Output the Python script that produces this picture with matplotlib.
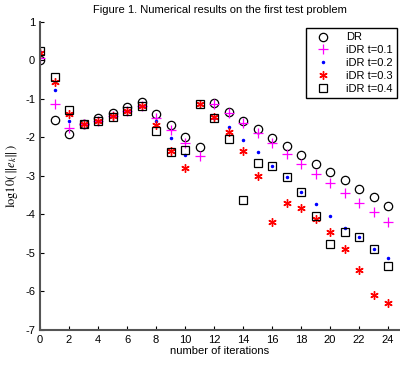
import numpy as np
import matplotlib
matplotlib.use("Agg")
import matplotlib.pyplot as plt

# data
iters = np.arange(25)
dr = [0.0, -1.55, -1.91, -1.65, -1.50, -1.36, -1.21, -1.09, -1.40, -1.69, -1.99, -2.26, -1.11,
      -1.34, -1.57, -1.79, -2.01, -2.23, -2.46, -2.69, -2.91, -3.12, -3.35, -3.56, -3.78]
idr_01 = [0.06, -1.13, -1.76, -1.65, -1.59, -1.45, -1.31, -1.18, -1.50, -1.81, -2.15, -2.50, -1.13,
          -1.38, -1.63, -1.88, -2.14, -2.44, -2.69, -2.95, -3.20, -3.45, -3.70, -3.95, -4.19]
idr_02 = [0.20, -0.77, -1.57, -1.65, -1.59, -1.45, -1.31, -1.18, -1.57, -2.02, -2.47, -1.13, -1.50,
          -1.73, -2.06, -2.39, -2.74, -3.02, -3.42, -3.73, -4.04, -4.35, -4.59, -4.90, -5.13]
idr_03 = [0.19, -0.57, -1.40, -1.65, -1.59, -1.45, -1.31, -1.18, -1.68, -2.37, -2.79, -1.13, -1.48,
          -1.87, -2.35, -3.01, -4.21, -3.71, -3.84, -4.12, -4.47, -4.90, -5.44, -6.10, -6.29]
idr_04 = [0.23, -0.44, -1.29, -1.65, -1.59, -1.48, -1.31, -1.20, -1.83, -2.38, -2.32, -1.13, -1.51,
          -2.05, -3.63, -2.66, -2.74, -3.02, -3.42, -4.04, -4.77, -4.45, -4.59, -4.90, -5.33]
labels = ["DR", "iDR t=0.1", "iDR t=0.2", "iDR t=0.3", "iDR t=0.4"]

plt.rcParams["font.family"] = ["Liberation Sans", "DejaVu Sans"]
plt.rcParams["axes.unicode_minus"] = False
plt.rcParams["mathtext.fontset"] = "stix"

fig = plt.figure(figsize=(4.0, 3.67), dpi=100)
ax = fig.add_axes([0.1, 0.1008, 0.8975, 0.8406])

star = (6, 2, 0)  # asterisk like matlab '*'
ax.plot(iters, dr, "o", mfc="none", mec="black", ms=6, mew=0.9, label=labels[0], ls="none")
ax.plot(iters, idr_01, "+", color="magenta", ms=7, mew=0.9, label=labels[1], ls="none")
ax.plot(iters, idr_02, ".", color="blue", ms=3, label=labels[2], ls="none")
ax.plot(iters, idr_03, marker=star, color="red", ms=6, mew=1.0, label=labels[3], ls="none")
ax.plot(iters, idr_04, "s", mfc="none", mec="black", ms=6, mew=0.9, label=labels[4], ls="none")

ax.set_xlim(0, 24.75)
ax.set_ylim(-7, 1)
ax.set_xticks(np.arange(0, 25, 2))
ax.set_yticks(np.arange(-7, 2, 1))
ax.tick_params(direction="in", labelsize=8, length=3, colors="black")
for s in ["top", "right"]:
    ax.spines[s].set_visible(False)
for s in ["left", "bottom"]:
    ax.spines[s].set_color("#555555")
    ax.spines[s].set_linewidth(1.5)

ax.set_xlabel("number of iterations", fontsize=8, labelpad=1)
ax.set_ylabel(r"$\mathrm{log10}(\,\|e_k\|\,)$", fontsize=9, labelpad=4)
ax.set_title("Figure 1. Numerical results on the first test problem", fontsize=8, pad=6)

leg = ax.legend(loc="upper right", bbox_to_anchor=(0.995, 0.979), borderaxespad=0, fontsize=8,
                fancybox=False, edgecolor="black", framealpha=1, borderpad=0.4,
                labelspacing=0.25, handlelength=2.2, handletextpad=1.0)
leg.get_frame().set_linewidth(1.0)

fig.savefig("out.png", dpi=100)
